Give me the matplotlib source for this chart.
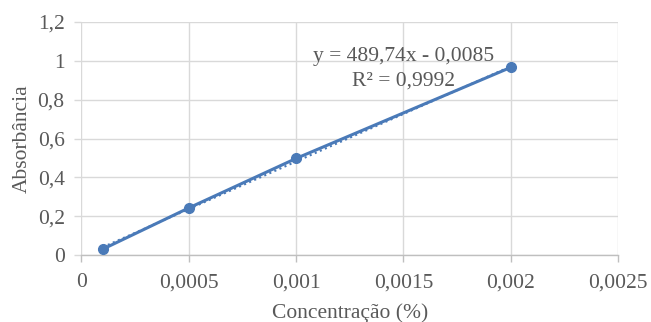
import matplotlib
matplotlib.use("Agg")
import matplotlib.pyplot as plt
import numpy as np

# Data
concentration = [0.0001, 0.0005, 0.001, 0.002]
absorbance = [0.03, 0.242, 0.497, 0.966]
slope = 489.74
intercept = -0.0085
equation_text = "y = 489,74x - 0,0085\nR² = 0,9992"
x_ticks = [0, 0.0005, 0.001, 0.0015, 0.002, 0.0025]
x_tick_labels = ["0", "0,0005", "0,001", "0,0015", "0,002", "0,0025"]
y_ticks = [0, 0.2, 0.4, 0.6, 0.8, 1.0, 1.2]
y_tick_labels = ["0", "0,2", "0,4", "0,6", "0,8", "1", "1,2"]
x_label = "Concentração (%)"
y_label = "Absorbância"

plt.rcParams['font.family'] = ['Liberation Serif', 'DejaVu Serif']
text_color = '#595959'
grid_color = '#d9d9d9'
line_color = '#4a7ab8'

fig = plt.figure(figsize=(6.51, 3.22), dpi=100)
ax = fig.add_axes([81.3/651, 1-255/322, (618-81.3)/651, (255-22)/322])

ax.set_xlim(0, 0.0025)
ax.set_ylim(0, 1.2)
ax.set_xticks(x_ticks)
ax.set_xticklabels(x_tick_labels)
ax.set_yticks(y_ticks)
ax.set_yticklabels(y_tick_labels)

ax.grid(True, color=grid_color, linewidth=1.0)
ax.set_axisbelow(True)
for s in ['top', 'right', 'left']:
    ax.spines[s].set_visible(False)
ax.spines['bottom'].set_color('#bfbfbf')
ax.spines['bottom'].set_linewidth(1.0)

ax.tick_params(axis='both', colors=grid_color, labelcolor=text_color,
               labelsize=15.5, length=5, width=1.0)
ax.tick_params(axis='x', colors='#bfbfbf', labelcolor=text_color, pad=8)
ax.tick_params(axis='y', pad=7)

# trendline (dotted)
tx = np.array([min(concentration), max(concentration)])
ax.plot(tx, slope * tx + intercept, linestyle=':', color=line_color,
        linewidth=1.5, zorder=3)
# data series
ax.plot(concentration, absorbance, color=line_color, linewidth=2.2,
        marker='o', markersize=7, zorder=4)

ax.text(0.0015, 0.96, equation_text, ha='center', va='center',
        fontsize=15.5, color=text_color, linespacing=1.4)

ax.set_xlabel(x_label, fontsize=15.5, color=text_color, labelpad=8)
ax.set_ylabel(y_label, fontsize=15.5, color=text_color, labelpad=4)

fig.savefig("out.png", dpi=100)
